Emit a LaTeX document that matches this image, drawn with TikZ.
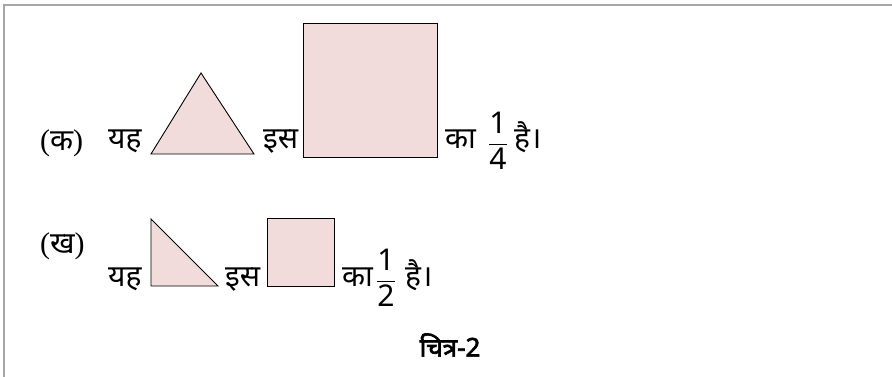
\documentclass[tikz,border=0pt]{standalone}
\usepackage{amsmath}
\usepackage{fontspec}
\setmainfont[Script=Devanagari]{Noto Sans}
\newfontfamily\parenfont{Liberation Serif}
\newfontfamily\capfont[Script=Devanagari, FakeBold=2.5]{Noto Sans}
\usetikzlibrary{positioning}
\definecolor{shade}{HTML}{F2DCDB}
\definecolor{rulegray}{HTML}{A6A6A6}
\newcommand{\paren}[1]{{\parenfont(}#1{\parenfont)}}
\tikzset{pinkfig/.style={draw=black, line width=0.9pt, fill=shade, line join=miter},
  word/.style={anchor=base west, inner sep=0pt, font=\fontsize{30}{36}\selectfont},
  tag/.style={anchor=base west, inner sep=0pt, font=\fontsize{30}{36}\selectfont},
  frac/.style={inner sep=0pt, font=\fontsize{30}{36}\selectfont}}

\begin{document}
\begin{tikzpicture}[x=1pt,y=-1pt]
  \useasboundingbox (0,0) rectangle (892,377);
  % frame
  \draw[rulegray, line width=1.4pt] (4,377) -- (4,5) -- (892,5);
  % row (k)
  \node[tag] (ka) at (40,151) {\paren{क}};
  \node[word] (yahA) at (108,149) {यह};
  \draw[pinkfig] (151,154) -- (201,73) -- (254,154) -- cycle;
  \node[word] (isA) at (263,149) {इस};
  \draw[pinkfig] (303,23) rectangle (437,157);
  \node[word] (kaA) at (445,149) {का};
  \node[frac] (fracA) at (498,141) {$\dfrac{\text{1}}{\text{4}}$};
  \node[word] (haiA) at (514,149) {है।};
  % row (kh)
  \node[tag] (kha) at (40,253) {\paren{ख}};
  \node[word] (yahB) at (108,286) {यह};
  \draw[pinkfig] (151,219) -- (151,286) -- (218,286) -- cycle;
  \node[word] (isB) at (225,286) {इस};
  \draw[pinkfig] (267,218) rectangle (334,286);
  \node[word] (kaB) at (342,286) {का};
  \node[frac] (fracB) at (386,278) {$\dfrac{\text{1}}{\text{2}}$};
  \node[word] (haiB) at (405,286) {है।};
  % caption
  \node[font=\capfont\fontsize{26}{30}\selectfont, inner sep=0pt] (cap) at (450,345) {चित्र-2};
\end{tikzpicture}
\end{document}
